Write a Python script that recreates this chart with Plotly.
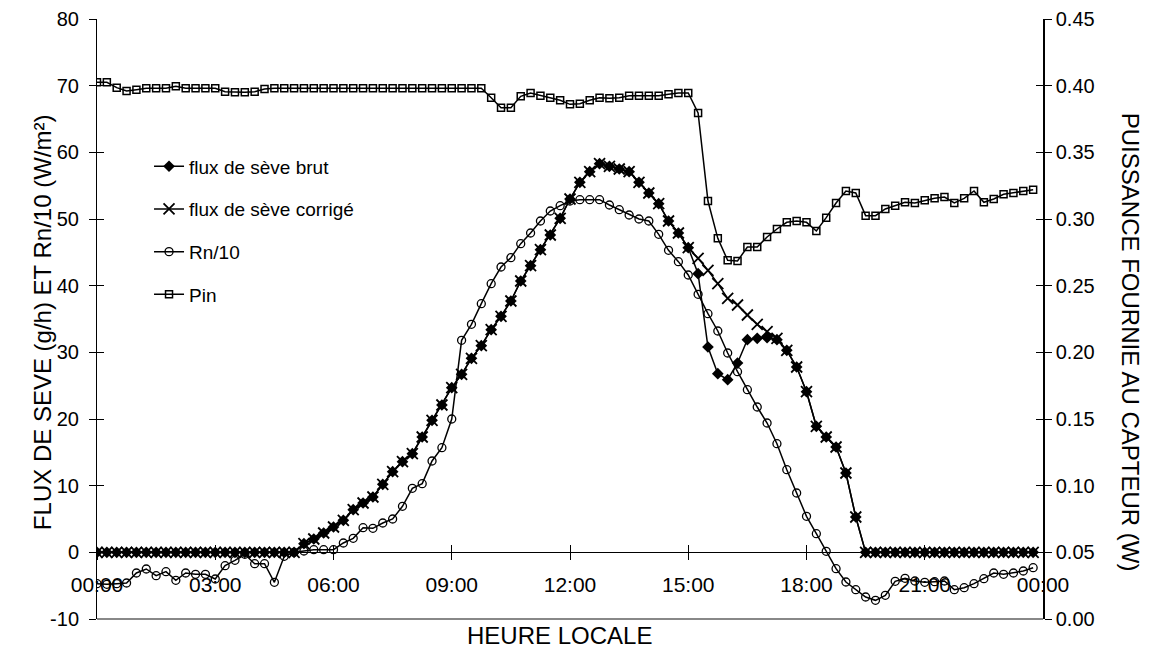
import plotly.graph_objects as go

# 15-minute steps, 00:00 -> 23:45 (hours)
heures = [i * 0.25 for i in range(96)]

flux_brut = [0] * 21 + [
    1.3, 2.0, 2.9, 3.8, 4.8, 6.4, 7.4, 8.3, 10.2, 12.1,
    13.6, 14.8, 17.3, 19.8, 22.1, 24.7, 26.7, 29.1, 31.0, 33.4,
    35.4, 37.7, 40.7, 43.0, 45.4, 47.6, 50.1, 53.0, 55.5, 57.1,
    58.3, 57.9, 57.5, 57.1, 55.5, 53.9, 52.3, 49.7, 47.9, 45.7,
    41.8, 30.8, 26.8, 25.9, 28.4, 31.9, 32.1, 32.2, 31.9, 30.3,
    27.8, 24.1, 18.9, 17.3, 15.8, 11.9, 5.3,
] + [0] * 18

flux_corrige = [0] * 21 + [
    1.3, 2.0, 2.9, 3.8, 4.8, 6.4, 7.4, 8.3, 10.2, 12.1,
    13.6, 14.8, 17.3, 19.8, 22.1, 24.7, 26.7, 29.1, 31.0, 33.4,
    35.4, 37.7, 40.7, 43.0, 45.4, 47.6, 50.1, 53.0, 55.5, 57.1,
    58.3, 57.9, 57.5, 57.1, 55.5, 53.9, 52.3, 49.7, 47.9, 45.7,
    44.1, 42.3, 40.3, 38.1, 37.1, 35.6, 34.2, 33.1, 32.1, 30.3,
    27.8, 24.1, 18.9, 17.3, 15.8, 11.9, 5.3,
] + [0] * 18

rn10 = [
    -4.7, -4.8, -4.7, -4.6, -3.1, -2.5, -3.5, -2.9, -4.2, -3.1,
    -3.3, -3.3, -4.0, -2.0, -1.2, -0.3, -1.7, -1.7, -4.5, -0.6,
    0.0, 0.2, 0.4, 0.4, 0.4, 1.4, 2.1, 3.7, 3.6, 4.4,
    5.0, 6.9, 9.6, 10.3, 13.7, 15.7, 20.0, 31.8, 34.2, 37.3,
    40.3, 42.8, 44.2, 46.3, 47.9, 49.7, 51.2, 52.0, 52.7, 52.9,
    52.9, 52.9, 52.1, 51.4, 50.6, 50.0, 49.7, 47.7, 45.3, 43.6,
    41.6, 38.7, 35.8, 33.2, 29.9, 27.1, 24.4, 21.8, 19.4, 16.3,
    12.4, 8.9, 5.4, 2.8, 0.15, -2.45, -4.45, -5.6, -6.7, -7.2,
    -6.45, -4.35, -3.9, -4.3, -4.5, -4.4, -4.3, -5.6, -5.3, -4.7,
    -3.95, -3.1, -3.3, -3.1, -2.8, -2.3,
]

pin = [
    0.4025, 0.4025, 0.3985, 0.396, 0.397, 0.398, 0.398, 0.398, 0.3995, 0.398,
    0.398, 0.398, 0.398, 0.3955, 0.395, 0.395, 0.3955, 0.3975, 0.398, 0.398,
    0.398, 0.398, 0.398, 0.398, 0.398, 0.398, 0.398, 0.398, 0.398, 0.398,
    0.398, 0.398, 0.398, 0.398, 0.398, 0.398, 0.398, 0.398, 0.398, 0.398,
    0.391, 0.3835, 0.3835, 0.392, 0.3945, 0.3925, 0.391, 0.389, 0.386, 0.3865,
    0.389, 0.391, 0.3905, 0.391, 0.3925, 0.3925, 0.3925, 0.3925, 0.3935, 0.3945,
    0.3945, 0.3795, 0.3135, 0.2855, 0.269, 0.2685, 0.279, 0.279, 0.2865, 0.2925,
    0.2975, 0.2985, 0.2975, 0.291, 0.301, 0.312, 0.321, 0.3195, 0.3025, 0.3025,
    0.3075, 0.310, 0.3125, 0.312, 0.314, 0.3155, 0.3165, 0.312, 0.3155, 0.321,
    0.3125, 0.315, 0.3185, 0.3195, 0.321, 0.322,
]

tick_heures = [0, 3, 6, 9, 12, 15, 18, 21, 24]
tick_labels = ["00:00", "03:00", "06:00", "09:00", "12:00", "15:00", "18:00", "21:00", "00:00"]
tick_flux = [-10, 0, 10, 20, 30, 40, 50, 60, 70, 80]
tick_flux_labels = ["-10", "0", "10", "20", "30", "40", "50", "60", "70", "80"]

FONT = "Liberation Sans, Arial, sans-serif"
fs = 19        # legend
fs_tick = 20
fs_title = 24

fig = go.Figure()
fig.add_trace(go.Scatter(x=heures, y=flux_brut, name="flux de sève brut", legendgroup="a",
                         mode="lines+markers", line=dict(color="black", width=1.5),
                         marker=dict(symbol="diamond", size=9, color="black")))
fig.add_trace(go.Scatter(x=heures, y=flux_corrige, name="flux de sève corrigé", legendgroup="b",
                         mode="lines+markers", line=dict(color="black", width=1.5),
                         marker=dict(symbol="x-thin", size=11, line=dict(color="black", width=1.8))))
fig.add_trace(go.Scatter(x=heures, y=rn10, name="Rn/10", legendgroup="c",
                         mode="lines+markers", line=dict(color="black", width=1.5),
                         marker=dict(symbol="circle-open", size=8, color="black", line=dict(width=1.3))))
fig.add_trace(go.Scatter(x=heures, y=pin, name="Pin", legendgroup="d", yaxis="y2",
                         mode="lines+markers", line=dict(color="black", width=1.5),
                         marker=dict(symbol="square-open", size=7, color="black", line=dict(width=1.5))))

# overlay axes only carry the inner half of the crossing tick marks
fig.add_trace(go.Scatter(x=[None], y=[None], xaxis="x2", yaxis="y3", showlegend=False, hoverinfo="skip"))
fig.add_trace(go.Scatter(x=[None], y=[None], xaxis="x2", yaxis="y4", showlegend=False, hoverinfo="skip"))

x_pos = 10 / 90  # x axis crosses at y = 0

# the page body has an 8px margin, so margins are shifted to compensate
fig.update_layout(
    width=1152, height=648,
    margin=dict(l=89, r=117, t=11, b=37),
    plot_bgcolor="white", paper_bgcolor="white",
    font=dict(family=FONT, size=fs, color="black"),
    showlegend=True,
    legend=dict(x=0.055, y=0.786, xanchor="left", yanchor="top", bgcolor="rgba(0,0,0,0)",
                font=dict(size=fs), tracegroupgap=15),
    xaxis=dict(range=[0, 24], anchor="free", position=x_pos, showline=True, linecolor="black",
               linewidth=1, ticks="outside", ticklen=7, tickcolor="black",
               tickvals=tick_heures, ticktext=tick_labels, ticklabelstandoff=6,
               tickfont=dict(size=21), showgrid=False, zeroline=False, automargin=False),
    xaxis2=dict(range=[0, 24], overlaying="x", anchor="free", position=x_pos, showline=False,
                ticks="inside", ticklen=7, tickcolor="black", tickvals=tick_heures,
                showticklabels=False, showgrid=False, zeroline=False, automargin=False),
    yaxis=dict(range=[-10, 80], tickvals=tick_flux, ticktext=tick_flux_labels, showline=True,
               linecolor="black", linewidth=1, ticks="outside", ticklen=7, tickcolor="black",
               showgrid=False, zeroline=False, ticklabelstandoff=6,
               tickfont=dict(size=fs_tick), automargin=False),
    yaxis2=dict(range=[0, 0.45], dtick=0.05, tickformat=".2f", side="right", overlaying="y",
                showline=True, linecolor="black", linewidth=1.5, ticks="outside", ticklen=7,
                tickcolor="black", showgrid=False, zeroline=False, ticklabelstandoff=0,
                tickfont=dict(size=fs_tick), automargin=False),
    yaxis3=dict(range=[-10, 80], dtick=10, overlaying="y", ticks="inside", ticklen=7,
                tickcolor="black", showticklabels=False, showgrid=False, zeroline=False,
                automargin=False),
    yaxis4=dict(range=[0, 0.45], dtick=0.05, overlaying="y", side="right", ticks="inside",
                ticklen=7, tickcolor="black", showticklabels=False, showgrid=False, zeroline=False,
                automargin=False),
    shapes=[dict(type="line", xref="paper", yref="paper", x0=0, x1=1, y0=0, y1=0,
                 line=dict(color="#888888", width=2))],
    annotations=[
        dict(text="HEURE LOCALE", xref="paper", yref="paper", x=0.489, y=-0.027,
             showarrow=False, font=dict(size=fs_title), xanchor="center", yanchor="middle"),
        dict(text="FLUX DE SEVE (g/h) ET Rn/10 (W/m²)", xref="paper", yref="paper",
             x=-0.058, y=0.495, textangle=-90, showarrow=False, font=dict(size=fs_title),
             xanchor="center", yanchor="middle"),
        dict(text="PUISSANCE FOURNIE AU CAPTEUR (W)", xref="paper", yref="paper",
             x=1.092, y=0.462, textangle=90, showarrow=False, font=dict(size=fs_title),
             xanchor="center", yanchor="middle"),
    ],
)

fig.write_html("out.html")
